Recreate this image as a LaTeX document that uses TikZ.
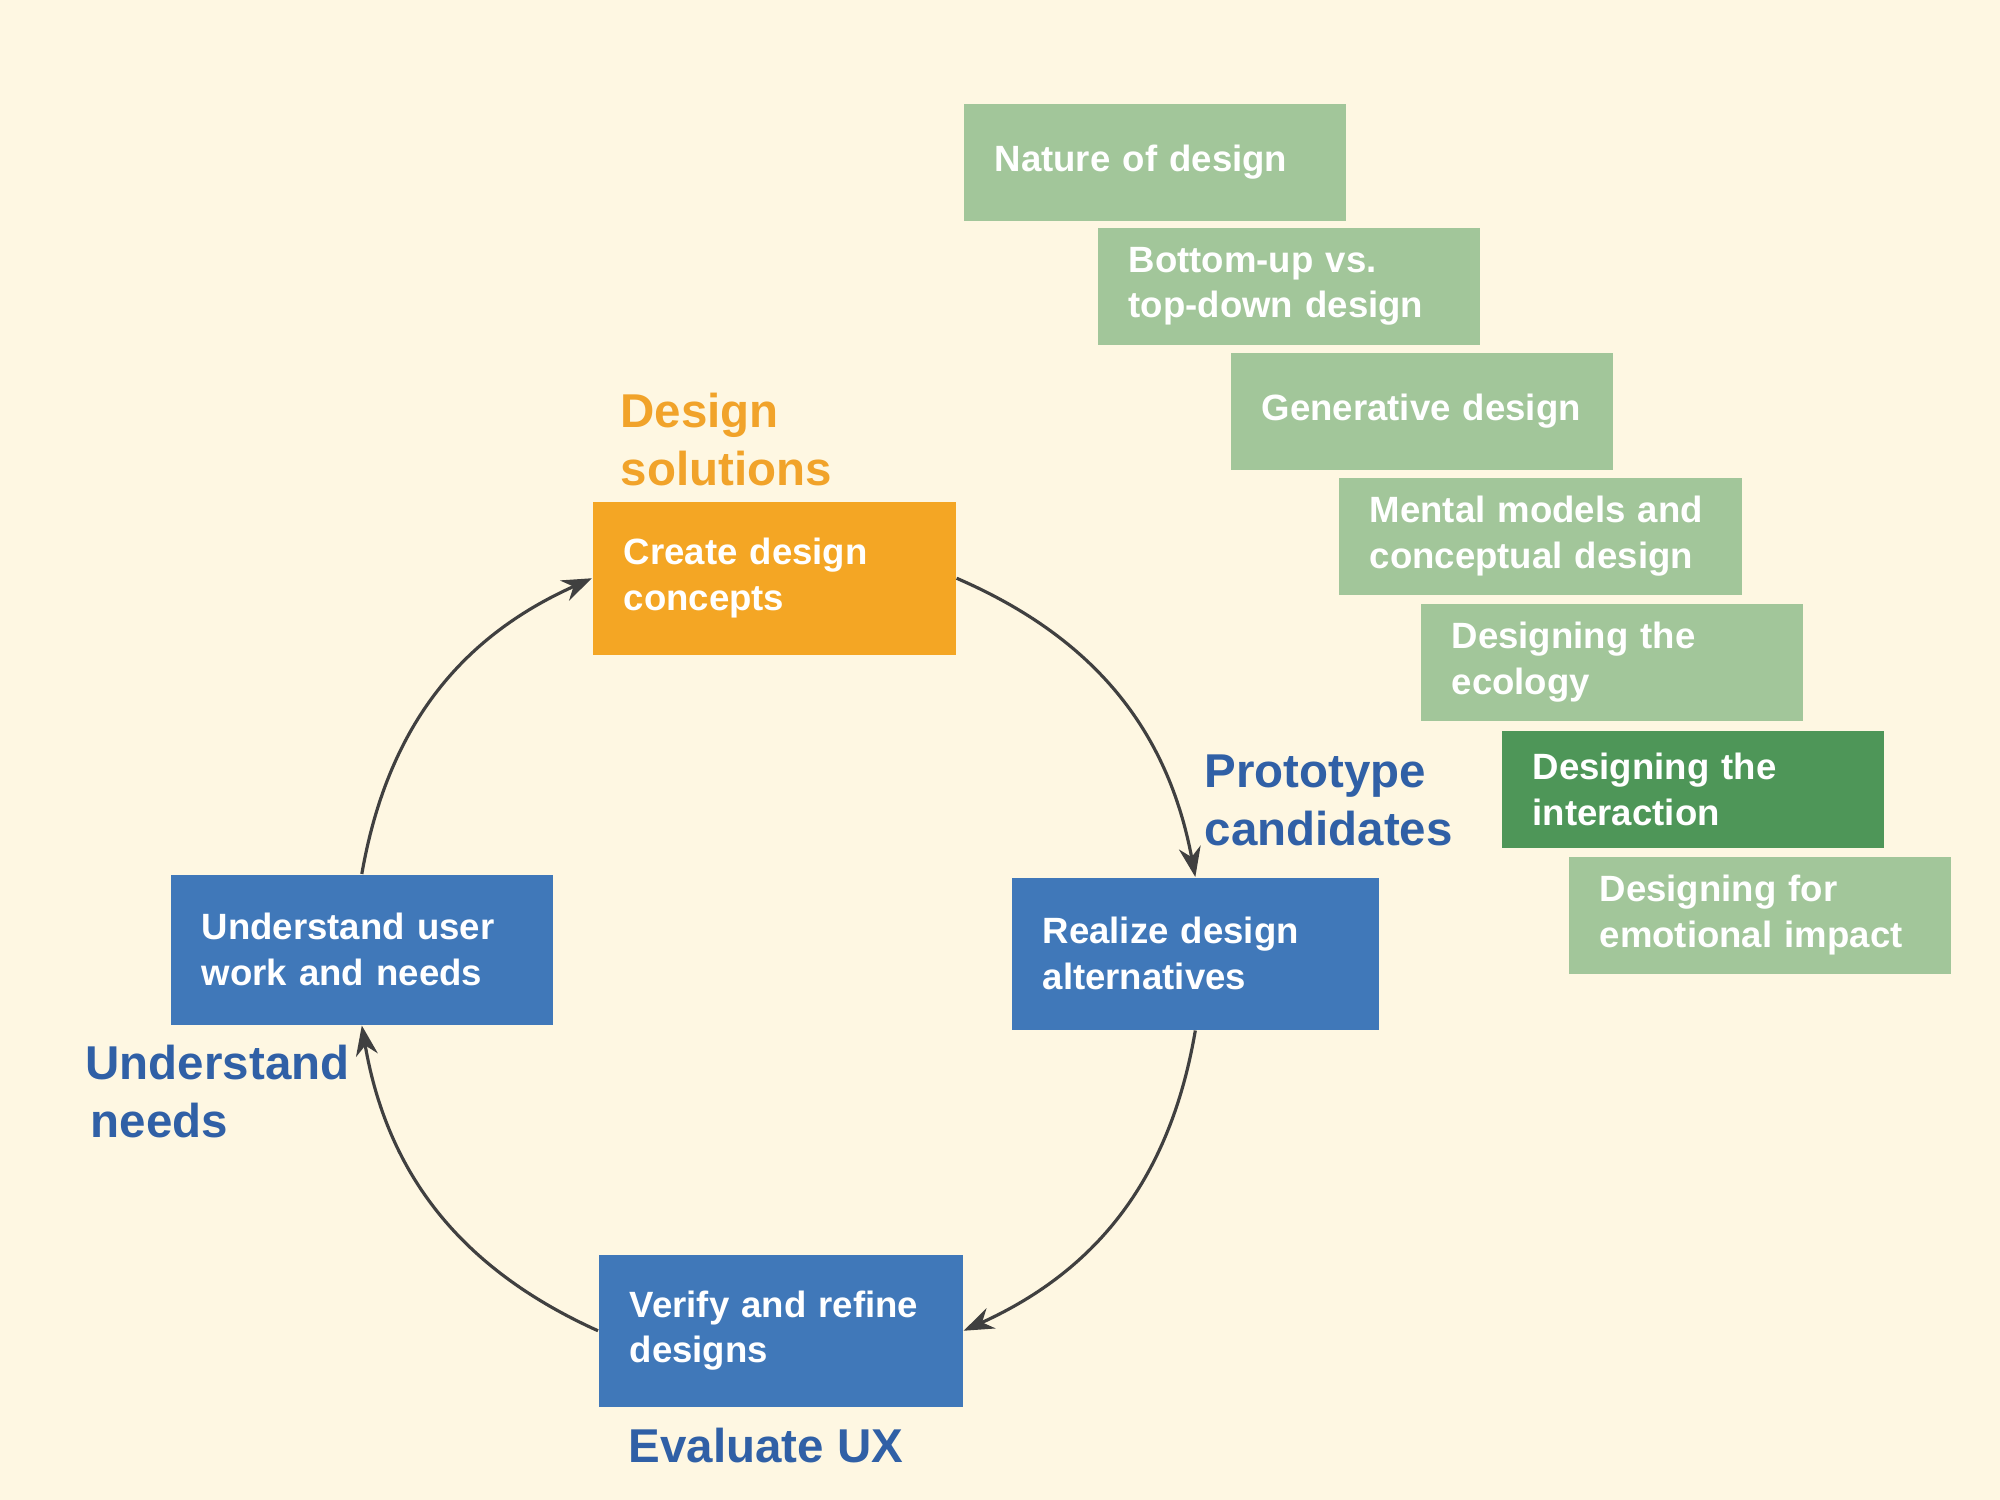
\documentclass[tikz,border=0pt]{standalone}
\usepackage{fontspec}
\setmainfont{Liberation Sans}
\usepackage{xcolor}
\usetikzlibrary{arrows.meta}
\hyphenpenalty=10000

\definecolor{bgcream}{RGB}{254,247,226}
\definecolor{boxorange}{RGB}{244,166,36}
\definecolor{boxblue}{RGB}{64,120,185}
\definecolor{textblue}{RGB}{48,96,166}
\definecolor{textorange}{RGB}{241,163,42}
\definecolor{lightgreen}{RGB}{162,198,154}
\definecolor{darkgreen}{RGB}{78,150,88}
\definecolor{arrowgray}{RGB}{64,64,64}

\begin{document}
\begin{tikzpicture}[x=0.01cm,y=-0.01cm,
    box/.style={anchor=north west,inner xsep=0.31cm,inner ysep=0pt,align=left,
      text=white,font=\bfseries\fontsize{10.4}{13}\selectfont},
    bluebox/.style={box,fill=boxblue,minimum height=1.52cm},
    greenbox/.style={box,fill=lightgreen,minimum height=1.17cm,text width=3.2cm},
    phase/.style={anchor=west,inner sep=0pt,align=left,text=textblue,
      font=\bfseries\fontsize{13.5}{16.5}\selectfont},
    cycle/.style={draw=arrowgray,line width=0.9pt,
      -{Stealth[length=0.3cm,width=0.22cm]},bend left=28}]
  \fill[bgcream] (0,0) rectangle (2000,1500);

  % design cycle
  \node[box,fill=boxorange,minimum height=1.53cm,text width=3.01cm] (create) at (592,501) {Create design\\concepts};
  \node[bluebox,text width=3.05cm] (realize) at (1011,877) {Realize design\\alternatives};
  \node[bluebox,text width=3.02cm] (verify) at (598,1254) {Verify and refine\\designs};
  \node[bluebox,text width=3.2cm,minimum height=1.5cm] (understand) at (170,874) {Understand user\\work and needs};

  \node[phase,text=textorange] (solutions) at (620,440) {Design\\solutions};
  \node[phase] (prototype) at (1204,800) {Prototype\\candidates};
  \node[phase] (evaluate) at (628,1446) {Evaluate UX};
  \node[phase] (needs) at (85,1092) {Understand\\\hspace*{0.05cm}needs};

  \draw[cycle] (create.east) to (realize.north);
  \draw[cycle] (realize.south) to (verify.east);
  \draw[cycle] (verify.west) to (understand.south);
  \draw[cycle] (understand.north) to (create.west);

  % design topics
  \node[greenbox] (nature) at (963,103) {Nature of design};
  \node[greenbox] (bottomup) at (1097,227) {Bottom-up vs.\\top-down design};
  \node[greenbox] (generative) at (1230,352) {\mbox{Generative design}};
  \node[greenbox,text width=3.41cm] (mental) at (1338,477) {Mental models and\\conceptual design};
  \node[greenbox] (ecology) at (1420,603) {Designing the\\ecology};
  \node[greenbox,fill=darkgreen] (interaction) at (1501,730) {Designing the\\interaction};
  \node[greenbox] (emotional) at (1568,856) {Designing for\\emotional impact};
\end{tikzpicture}
\end{document}
